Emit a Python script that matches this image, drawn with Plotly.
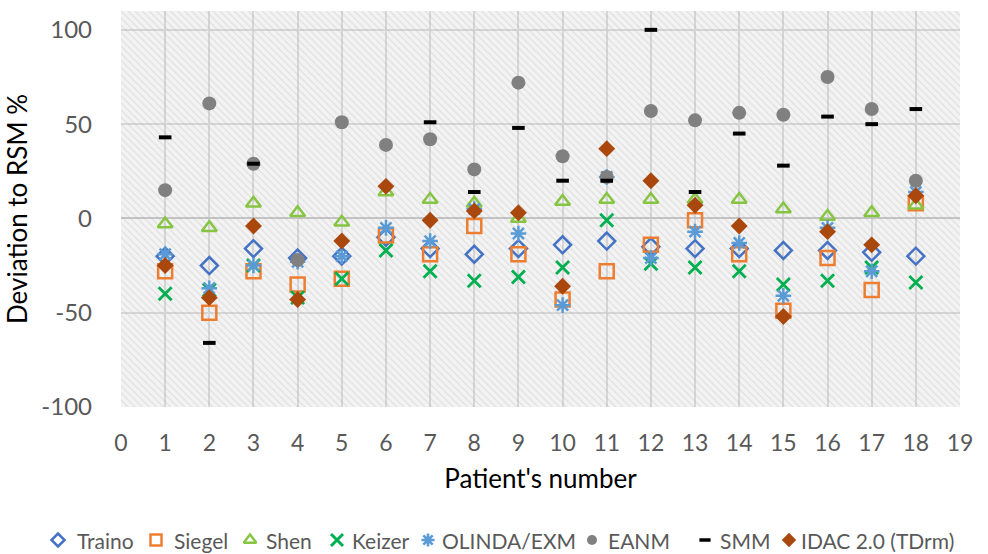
import plotly.graph_objects as go

# Patients 1..18 and the deviation (%) of each dosimetry method from RSM
patients = list(range(1, 19))

traino = [-20, -25, -16, -21, -20, -10, -16, -19, -16, -14, -12, -15, -16, -16, -17, -17, -18, -20]
siegel = [-28, -50, -28, -35, -32, -9, -19, -4, -19, -43, -28, -14, -1, -19, -49, -21, -38, 8]
shen = [-3, -5, 8, 3, -2, 14, 10, 8, 0, 9, 10, 10, 10, 10, 5, 1, 3, 7]
keizer = [-40, -38, -25, -42, -32, -17, -28, -33, -31, -26, -1, -24, -26, -28, -35, -33, -26, -34]
olinda = [-19, -37, -25, -23, -20, -5, -12, 5, -8, -46, 22, -21, -7, -13, -41, -5, -28, 14]
eanm = [15, 61, 29, -22, 51, 39, 42, 26, 72, 33, 22, 57, 52, 56, 55, 75, 58, 20]
smm = [43, -66, 29, None, None, None, 51, 14, 48, 20, 20, 100, 14, 45, 28, 54, 50, 58]
idac = [-25, -42, -4, -43, -12, 17, -1, 4, 3, -36, 37, 20, 7, -4, -52, -7, -14, 12]

series_names = ["Traino", "Siegel", "Shen", "Keizer", "OLINDA/EXM", "EANM", "SMM", "IDAC 2.0 (TDrm)"]

x_ticks = list(range(0, 20))
y_ticks = [-100, -50, 0, 50, 100]
y_tick_text = ["-100", "-50", "0", "50", "100"]
x_range = [0, 19]
y_range = [-100, 110]

# page geometry (pixels)
W, H = 988, 554
TOP = 11
PLOT_L, PLOT_R, PLOT_B = 121, 960, 407
LEGEND_H = 30          # strip at the bottom that holds the key
LEGEND_Y = 14          # key centre line inside that strip
# key symbol centres and label starts along the bottom strip
key_sym_x = [58, 156, 250, 337, 428, 592, 705, 789]
key_txt_x = [75, 172, 264, 350, 440, 606, 718, 799]

FONT = "Lato"
GRAY_TXT = "#595959"
PLOT_BG = "#f3f3f3"

styles = [
    dict(symbol="diamond-open", size=13, color="#4472C4", line=dict(width=2.5, color="#4472C4")),
    dict(symbol="square-open", size=14, color="#ED7D31", line=dict(width=2.5, color="#ED7D31")),
    dict(symbol="triangle-up-open", size=13, color="#86C541", line=dict(width=2.5, color="#86C541")),
    dict(symbol="x-thin", size=13, color="#00B050", line=dict(width=2.8, color="#00B050")),
    dict(symbol="asterisk-open", size=13, color="#5B9BD5", line=dict(width=2.5, color="#5B9BD5")),
    dict(symbol="circle", size=14, color="#808080", line=dict(width=0)),
    dict(symbol="line-ew", size=9, color="#000000", line=dict(width=4, color="#000000")),
    dict(symbol="diamond", size=13, color="#A9470D", line=dict(width=0)),
]
key_styles = [
    dict(symbol="diamond-open", size=10, color="#4472C4", line=dict(width=2.5, color="#4472C4")),
    dict(symbol="square-open", size=11, color="#ED7D31", line=dict(width=2.5, color="#ED7D31")),
    dict(symbol="triangle-up-open", size=11, color="#86C541", line=dict(width=2.4, color="#86C541")),
    dict(symbol="x-thin", size=12, color="#00B050", line=dict(width=3, color="#00B050")),
    dict(symbol="asterisk-open", size=11, color="#5B9BD5", line=dict(width=2.6, color="#5B9BD5")),
    dict(symbol="circle", size=10, color="#808080", line=dict(width=0)),
    dict(symbol="line-ew", size=8, color="#000000", line=dict(width=3.5, color="#000000")),
    dict(symbol="diamond", size=11, color="#A9470D", line=dict(width=0)),
]
values = [traino, siegel, shen, keizer, olinda, eanm, smm, idac]

fig = go.Figure()

# plot-area fill under the gridlines
fig.add_shape(type="rect", xref="x", yref="y", x0=x_range[0], x1=x_range[1],
              y0=y_range[0], y1=y_range[1], fillcolor=PLOT_BG, line=dict(width=0), layer="below")

# diagonal hatching over the plot area
fig.add_trace(go.Scatter(
    x=[x_range[0], x_range[1], x_range[1], x_range[0], x_range[0]],
    y=[y_range[0], y_range[0], y_range[1], y_range[1], y_range[0]],
    mode="lines", line=dict(width=0), fill="toself",
    fillcolor="rgba(0,0,0,0)",
    fillpattern=dict(shape="\\", fgcolor="rgba(170,170,170,0.55)", bgcolor="rgba(0,0,0,0)",
                     size=5, solidity=0.25, fillmode="overlay"),
    showlegend=False, hoverinfo="skip",
))

for name, vals, marker in zip(series_names, values, styles):
    fig.add_trace(go.Scatter(x=patients, y=vals, mode="markers", name=name,
                             marker=marker, hoverinfo="skip", showlegend=False))

# key along the bottom, drawn on its own pixel-scaled strip
for name, sx, tx, marker in zip(series_names, key_sym_x, key_txt_x, key_styles):
    fig.add_trace(go.Scatter(x=[sx], y=[LEGEND_Y], mode="markers", marker=marker,
                             xaxis="x2", yaxis="y2", hoverinfo="skip", showlegend=False))
    fig.add_annotation(x=tx, y=LEGEND_Y, xref="x2", yref="y2", text=name, showarrow=False,
                       xanchor="left", yanchor="middle",
                       font=dict(family=FONT, size=21, color=GRAY_TXT))

inner_h = H - TOP
fig.update_layout(
    width=W, height=H,
    margin=dict(l=0, r=0, t=TOP, b=0, autoexpand=False),
    paper_bgcolor="white",
    plot_bgcolor="rgba(0,0,0,0)",
    font=dict(family=FONT, size=22, color=GRAY_TXT),
    showlegend=False,
    xaxis=dict(domain=[PLOT_L / W, PLOT_R / W], range=x_range, tickvals=x_ticks,
               showgrid=True, gridcolor="#d6d6d6", gridwidth=2,
               zeroline=False, showline=False, ticks="", ticklabelstandoff=20,
               tickfont=dict(family=FONT, size=23, color=GRAY_TXT),
               title=dict(text="Patient's number", font=dict(family=FONT, size=26, color="#000000"),
                          standoff=14)),
    yaxis=dict(domain=[(H - PLOT_B) / inner_h, 1], range=y_range, tickvals=y_ticks, ticktext=y_tick_text,
               showgrid=True, gridcolor="#d6d6d6", gridwidth=2,
               zeroline=True, zerolinecolor="#c4c4c4", zerolinewidth=2, showline=False, ticks="",
               ticklabelstandoff=28,
               tickfont=dict(family=FONT, size=24, color=GRAY_TXT),
               title=dict(text="Deviation to RSM %", font=dict(family=FONT, size=26, color="#000000"),
                          standoff=6)),
    xaxis2=dict(domain=[0, 1], range=[0, W], visible=False, anchor="y2", fixedrange=True,
                showgrid=False, zeroline=False),
    yaxis2=dict(domain=[0, LEGEND_H / inner_h], range=[0, LEGEND_H], visible=False, anchor="x2",
                fixedrange=True, showgrid=False, zeroline=False),
)

fig.write_html("out.html")
